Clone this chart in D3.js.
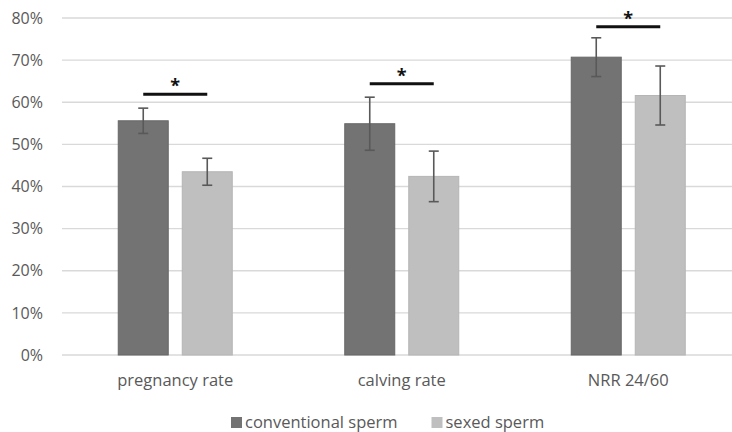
<!DOCTYPE html>
<html><head><meta charset="utf-8">
<script src="https://cdn.jsdelivr.net/npm/d3@7"></script>
<style>body{margin:0;background:#fff;} svg{display:block;}</style>
</head><body>
<script>
const categories = ["pregnancy rate", "calving rate", "NRR 24/60"];
const seriesNames = ["conventional sperm", "sexed sperm"];
const conventional = [55.6, 54.9, 70.7];
const conventionalErr = [3.0, 6.3, 4.6];
const sexed = [43.5, 42.4, 61.6];
const sexedErr = [3.2, 6.0, 7.0];
const sigLevels = [61.9, 64.4, 77.9];
const yTicks = [0, 10, 20, 30, 40, 50, 60, 70, 80];

const FONT = "'Open Sans', sans-serif";
const W = 732, H = 432;
const svg = d3.select("body").append("svg").attr("width", W).attr("height", H)
  .style("font-family", FONT);

const x = d3.scaleBand().domain(categories).range([62, 741.5]).paddingInner(0).paddingOuter(0);
const xs = d3.scaleBand().domain(seriesNames)
  .range([x.bandwidth()/2 - 57, x.bandwidth()/2 + 57]).paddingInner(0.219).paddingOuter(0);
const y = d3.scaleLinear().domain([0, 80]).range([355, 18]);
const colors = {"conventional sperm": "#737373", "sexed sperm": "#bfbfbf"};
const strokes = {"conventional sperm": "#676767", "sexed sperm": "#b5b5b5"};

// gridlines
svg.append("g").selectAll("line").data(yTicks).join("line")
  .attr("x1", 62).attr("x2", W).attr("y1", d => y(d)).attr("y2", d => y(d))
  .attr("stroke", "#d9d9d9").attr("stroke-width", 1.3);

// y axis labels
const yAxis = d3.axisLeft(y).tickValues(yTicks).tickFormat(d => d + "%").tickSize(0).tickPadding(0);
const ya = svg.append("g").attr("transform", "translate(43,0)").call(yAxis);
ya.select(".domain").remove();
ya.selectAll("text").attr("fill", "#595959").style("font-size", "16px").style("font-family", FONT);

const data = categories.map((c, i) => ({
  cat: c,
  vals: [
    {s: seriesNames[0], v: conventional[i], e: conventionalErr[i]},
    {s: seriesNames[1], v: sexed[i], e: sexedErr[i]}
  ],
  sig: sigLevels[i]
}));

const groups = svg.append("g").selectAll("g").data(data).join("g")
  .attr("transform", d => `translate(${x(d.cat)},0)`);

groups.selectAll("rect").data(d => d.vals).join("rect")
  .attr("x", d => xs(d.s)).attr("width", xs.bandwidth())
  .attr("y", d => y(d.v)).attr("height", d => y(0) - y(d.v))
  .attr("fill", d => colors[d.s]).attr("stroke", d => strokes[d.s]).attr("stroke-width", 1);

// error bars
const eb = groups.selectAll("g.eb").data(d => d.vals).join("g").attr("class", "eb")
  .attr("stroke", "#595959").attr("stroke-width", 1.6);
const cx = d => xs(d.s) + xs.bandwidth()/2;
eb.append("line").attr("x1", cx).attr("x2", cx)
  .attr("y1", d => y(d.v + d.e)).attr("y2", d => y(d.v - d.e));
eb.append("line").attr("x1", d => cx(d) - 5).attr("x2", d => cx(d) + 5)
  .attr("y1", d => y(d.v + d.e)).attr("y2", d => y(d.v + d.e));
eb.append("line").attr("x1", d => cx(d) - 5).attr("x2", d => cx(d) + 5)
  .attr("y1", d => y(d.v - d.e)).attr("y2", d => y(d.v - d.e));

// significance lines
groups.append("line")
  .attr("x1", xs(seriesNames[0]) + xs.bandwidth()/2)
  .attr("x2", xs(seriesNames[1]) + xs.bandwidth()/2)
  .attr("y1", d => y(d.sig)).attr("y2", d => y(d.sig))
  .attr("stroke", "#111").attr("stroke-width", 3);
groups.append("text")
  .attr("x", x.bandwidth()/2).attr("y", d => y(d.sig) - 2)
  .attr("text-anchor", "middle").attr("fill", "#111")
  .style("font-size", "18px").style("font-weight", "bold").text("*");

// x labels
svg.append("g").selectAll("text").data(categories).join("text")
  .attr("x", d => x(d) + x.bandwidth()/2).attr("y", 386)
  .attr("text-anchor", "middle").attr("fill", "#595959").style("font-size", "16.5px").text(d => d);

// legend
const legX = [231, 431.5];
const leg = svg.append("g").selectAll("g").data(seriesNames).join("g")
  .attr("transform", (d, i) => `translate(${legX[i]},417)`);
leg.append("rect").attr("width", 11).attr("height", 11).attr("fill", d => colors[d]);
leg.append("text").attr("x", 14).attr("y", 11).attr("fill", "#595959").style("font-size", "16.5px").text(d => d);
</script>
</body></html>
